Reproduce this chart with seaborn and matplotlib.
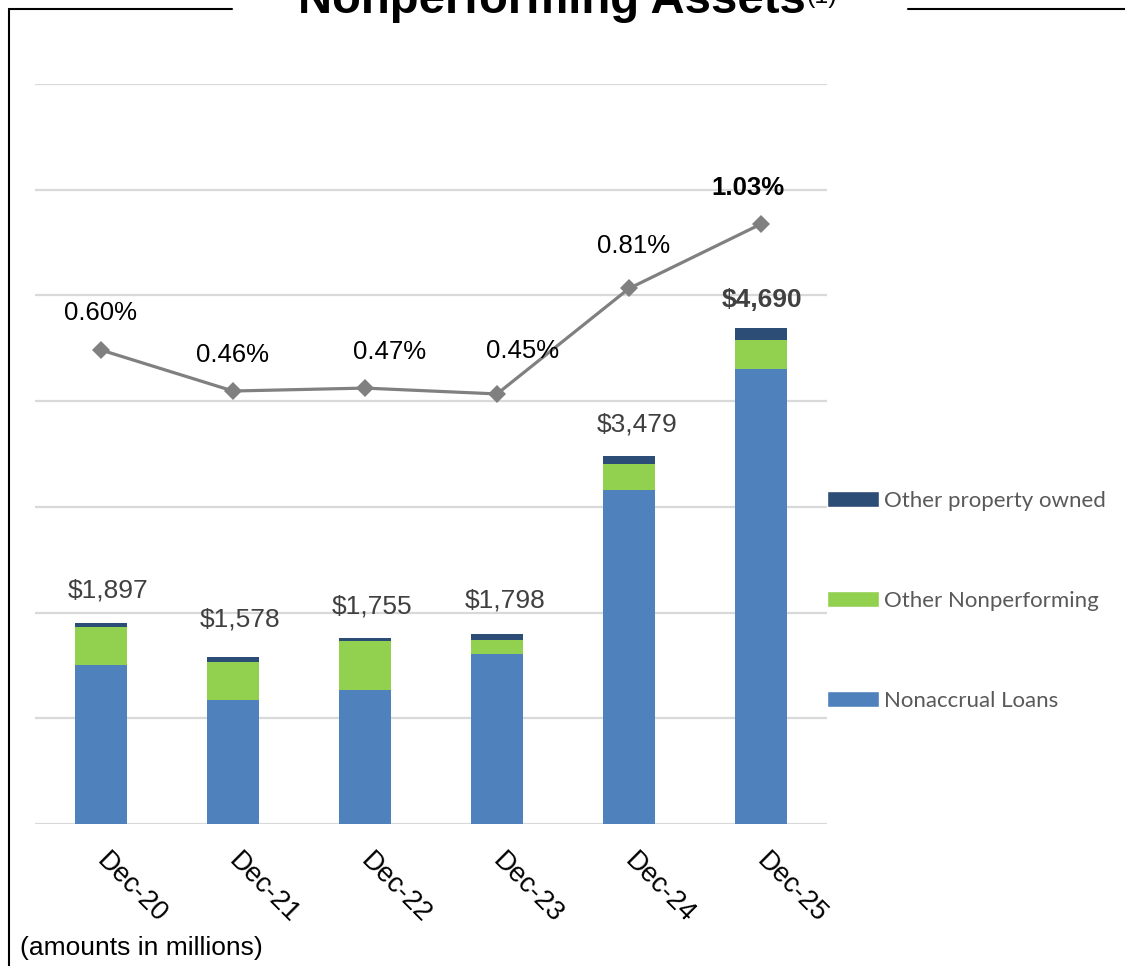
import numpy as np
import matplotlib
matplotlib.use("Agg")
import matplotlib.pyplot as plt
import matplotlib.transforms as mtransforms
import seaborn as sns
from matplotlib.lines import Line2D
from matplotlib.patches import Patch

# ---- data ----
categories = ["Dec-20", "Dec-21", "Dec-22", "Dec-23", "Dec-24", "Dec-25"]
nonaccrual = [1501, 1171, 1265, 1605, 3162, 4302]
other_np = [359, 359, 463, 132, 239, 279]
other_prop = [37, 48, 27, 61, 78, 109]
totals = [1897, 1578, 1755, 1798, 3479, 4690]
total_labels = ["$1,897", "$1,578", "$1,755", "$1,798", "$3,479", "$4,690"]
npa_pct = [0.60, 0.46, 0.47, 0.45, 0.81, 1.03]
pct_labels = ["0.60%", "0.46%", "0.47%", "0.45%", "0.81%", "1.03%"]
series_names = ["Other property owned", "Other Nonperforming", "Nonaccrual Loans"]

# label offsets (pixels) for manual placement like the reference
bar_lbl_dx = [7, 7, 7, 8, 8, 1]
bar_lbl_dy = [33, 38, 32, 33, 32, 28]
pct_lbl_dx = [0, 0, 25, 26, 5, -13]
pct_lbl_dy = [37, 36, 36, 43, 42, 36]

C_BLUE = "#4F81BD"
C_GREEN = "#92D050"
C_DARK = "#2C4D75"
C_LINE = "#808080"

sns.set_style("white")
plt.rcParams["font.family"] = ["Liberation Sans", "DejaVu Sans"]

W, H = 1125, 966
fig = plt.figure(figsize=(W / 100, H / 100), dpi=100)
ax = fig.add_axes([35 / W, 1 - 824 / H, (827 - 35) / W, (824 - 84) / H])

stack2 = list(np.add(nonaccrual, other_np))
bw = 0.39
sns.barplot(x=categories, y=totals, color=C_DARK, saturation=1, width=bw, linewidth=0, ax=ax, order=categories)
sns.barplot(x=categories, y=stack2, color=C_GREEN, saturation=1, width=bw, linewidth=0, ax=ax, order=categories)
sns.barplot(x=categories, y=nonaccrual, color=C_BLUE, saturation=1, width=bw, linewidth=0, ax=ax, order=categories)

ax2 = ax.twinx()

ax.set_ylim(0, 7000)
ax.set_xlim(-0.5, len(categories) - 0.5)
ax.set_yticks(np.arange(0, 7001, 1000))
ax.yaxis.grid(True, color="#D9D9D9", lw=1.6)
ax.set_axisbelow(True)
for s in ax.spines.values():
    s.set_visible(False)
ax.set_xlabel("")
ax.set_ylabel("")
ax.set_xticks(range(len(categories)))
ax.set_xticklabels(categories, rotation=-45, ha="left", va="top",
                   rotation_mode="anchor", fontsize=19.5, color="black")
ax.tick_params(axis="y", left=False, right=False, labelleft=False, labelright=False)
ax.tick_params(axis="x", bottom=False, pad=14)
shift = mtransforms.ScaledTranslation(9 / 100, 0, fig.dpi_scale_trans)
for lbl in ax.get_xticklabels():
    lbl.set_transform(lbl.get_transform() + shift)

for i, (t, lbl) in enumerate(zip(totals, total_labels)):
    bold = i == len(totals) - 1
    ax.annotate(lbl, (i, t), xytext=(bar_lbl_dx[i], bar_lbl_dy[i]),
                textcoords="offset pixels", ha="center", va="center",
                fontsize=19, color="#404040",
                fontweight="bold" if bold else "normal")

xpos = np.arange(len(categories))
sns.lineplot(x=xpos, y=npa_pct, color=C_LINE, lw=2.3, marker="D", markersize=9,
             markeredgewidth=0, ax=ax2)
ax2.set_ylim(-1.018, 1.508)
ax2.set_xlim(-0.5, len(categories) - 0.5)
ax2.axis("off")
for i, (p, lbl) in enumerate(zip(npa_pct, pct_labels)):
    bold = i == len(npa_pct) - 1
    ax2.annotate(lbl, (i, p), xytext=(pct_lbl_dx[i], pct_lbl_dy[i]),
                 textcoords="offset pixels", ha="center", va="center",
                 fontsize=18.5, color="black",
                 fontweight="bold" if bold else "normal")

# legend
handles = [Patch(facecolor=C_DARK), Patch(facecolor=C_GREEN), Patch(facecolor=C_BLUE)]
leg = fig.legend(handles, series_names, loc="center left",
                 bbox_to_anchor=(827 / W, 1 - 601 / H), frameon=False,
                 prop={"family": "Lato", "size": 16}, labelcolor="#595959",
                 handlelength=2.35, handleheight=0.7, handletextpad=0.22,
                 labelspacing=3.6, borderpad=0, borderaxespad=0)

# title
fig.text(298 / W, 1 - 13 / H, "Nonperforming Assets", fontsize=34, fontweight="bold",
         ha="left", va="baseline", color="black")
fig.text(806 / W, 1 - 3 / H, "(1)", fontsize=18, ha="left", va="baseline", color="black")

# frame lines
fig.add_artist(Line2D([8.5 / W, 8.5 / W], [1 - 8.5 / H, 0], color="black", lw=1.5,
                      transform=fig.transFigure))
fig.add_artist(Line2D([8.5 / W, 232 / W], [1 - 8.5 / H, 1 - 8.5 / H], color="black",
                      lw=1.5, transform=fig.transFigure))
fig.add_artist(Line2D([908 / W, 1], [1 - 8.5 / H, 1 - 8.5 / H], color="black",
                      lw=1.5, transform=fig.transFigure))

fig.text(20 / W, 1 - 955 / H, "(amounts in millions)", fontsize=19, ha="left",
         va="baseline", color="black")

fig.savefig("out.png", dpi=100)
